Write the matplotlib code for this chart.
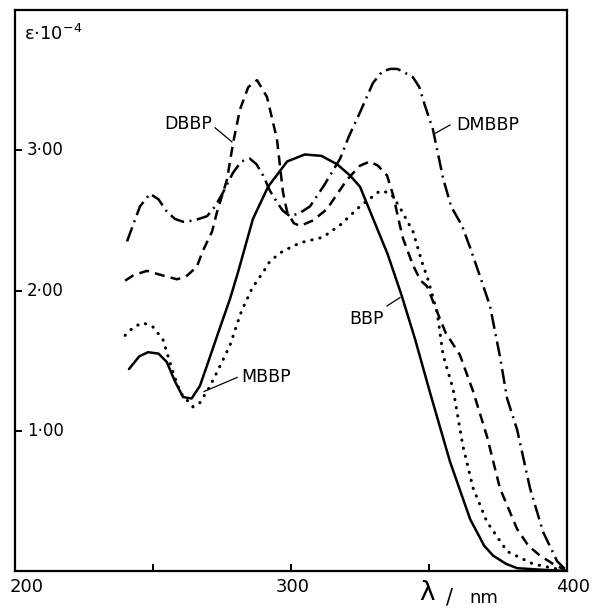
import matplotlib
matplotlib.use("Agg")
import matplotlib.pyplot as plt

plt.rcParams['font.family'] = 'DejaVu Sans'

# wavelength (nm) and epsilon * 1e-4
bbp_nm = [241.3, 245, 248.2, 252, 255, 258, 260.9, 264, 267, 270.7, 274, 277.9, 280.8,
          286.2, 291.7, 298.6, 305, 311, 316.7, 321.4, 325, 330, 335, 340, 345, 350.4,
          357.6, 364.9, 370, 373.2, 378, 382, 390, 400]
bbp_eps = [1.44, 1.53, 1.56, 1.55, 1.49, 1.35, 1.24, 1.23, 1.32, 1.53, 1.72, 1.94, 2.13,
           2.51, 2.74, 2.92, 2.97, 2.96, 2.90, 2.82, 2.74, 2.50, 2.26, 1.97, 1.65, 1.27,
           0.78, 0.37, 0.18, 0.11, 0.05, 0.02, 0.01, 0.0]

mbbp_nm = [239.9, 243, 246.4, 250, 253.6, 257.2, 260, 264.5, 267, 270.7, 274, 277.9, 282,
           286, 289.9, 292.4, 297, 303.3, 311.6, 318, 325, 332.2, 335, 336.6, 339.5, 344.2,
           347.8, 349.3, 352.9, 355.1, 358.7, 362.3, 366, 371, 378.3, 387.7, 400]
mbbp_eps = [1.68, 1.74, 1.77, 1.74, 1.65, 1.42, 1.27, 1.17, 1.20, 1.32, 1.45, 1.61, 1.85,
            2.02, 2.13, 2.21, 2.28, 2.34, 2.38, 2.47, 2.60, 2.71, 2.70, 2.68, 2.59, 2.42,
            2.18, 2.10, 1.85, 1.54, 1.30, 0.89, 0.59, 0.35, 0.14, 0.05, 0.0]

dbbp_nm = [239.9, 243, 247.8, 253, 258.7, 262, 265.9, 268, 271.4, 273.2, 276.8, 279, 281.5,
           284.5, 287.7, 291.3, 294.9, 297.1, 298.6, 301, 303.3, 308, 313, 320.3, 325, 328.6,
           331.5, 334.8, 337, 339.5, 340.6, 344.2, 347, 349.3, 352.9, 356, 361.2, 366, 371,
           375.7, 381.9, 386, 390.2, 395, 400]
dbbp_eps = [2.07, 2.11, 2.14, 2.11, 2.08, 2.10, 2.17, 2.28, 2.42, 2.56, 2.79, 3.05, 3.29,
            3.45, 3.50, 3.38, 3.08, 2.70, 2.56, 2.48, 2.46, 2.50, 2.58, 2.79, 2.89, 2.92,
            2.89, 2.82, 2.68, 2.46, 2.37, 2.18, 2.07, 2.03, 1.85, 1.70, 1.54, 1.28, 0.96,
            0.59, 0.30, 0.18, 0.11, 0.05, 0.0]

dmbbp_nm = [240.6, 243, 245.3, 248.9, 252, 255.1, 258, 260.9, 265, 269.6, 272.5, 275.4, 279,
            282, 285.1, 287.5, 289.9, 292.4, 294.9, 297, 299.6, 303, 306.9, 312, 317.8, 321,
            325, 329.7, 333, 335.9, 338.5, 340.6, 344.2, 346.5, 348.5, 351.4, 355.1, 358, 362,
            365, 368.5, 372.1, 375.7, 378.3, 381.9, 386.6, 391.3, 396.4, 400]
dmbbp_eps = [2.35, 2.48, 2.60, 2.69, 2.65, 2.56, 2.51, 2.49, 2.50, 2.53, 2.60, 2.70, 2.84,
             2.92, 2.94, 2.90, 2.82, 2.71, 2.63, 2.57, 2.53, 2.55, 2.60, 2.75, 2.94, 3.10,
             3.27, 3.48, 3.56, 3.58, 3.58, 3.56, 3.52, 3.45, 3.32, 3.15, 2.80, 2.60, 2.46,
             2.30, 2.10, 1.89, 1.53, 1.23, 1.01, 0.59, 0.28, 0.07, 0.0]

ytick_vals = [1, 2, 3]
ytick_labels = ['1·00', '2·00', '3·00']
xtick_vals = [250, 300, 350]
xlabel_vals = [200, 300, 400]
xlabel_pos = [204.3, 300.7, 402.2]

W, H = 596, 608
fig = plt.figure(figsize=(W / 100, H / 100), dpi=100)
ax = fig.add_axes([15 / W, (H - 571) / H, (567 - 15) / W, (571 - 10) / H])
ax.set_xlim(200, 400)
ax.set_ylim(0, 4.0)

lw = 1.8
ax.plot(bbp_nm, bbp_eps, color='black', lw=lw, solid_capstyle='round')
ax.plot(mbbp_nm, mbbp_eps, color='black', lw=2.2, linestyle=(0, (0.1, 2.6)),
        dash_capstyle='round')
ax.plot(dbbp_nm, dbbp_eps, color='black', lw=lw, linestyle=(0, (4, 2.5)))
ax.plot(dmbbp_nm, dmbbp_eps, color='black', lw=lw,
        linestyle=(0, (6, 2.2, 0.8, 2.2)))

# spines / ticks
for s in ax.spines.values():
    s.set_linewidth(1.6)
ax.set_xticks(xtick_vals)
ax.set_yticks(ytick_vals)
ax.tick_params(direction='in', length=5, width=1.4, labelbottom=False, labelleft=False)

for v, t in zip(ytick_vals, ytick_labels):
    ax.text(204.3, v, t, fontsize=12, ha='left', va='center')
for v, x in zip(xlabel_vals, xlabel_pos):
    ax.text(x, -0.115, str(v), fontsize=13, ha='center', va='center', clip_on=False)

ax.text(214, 3.83, 'ε·10$^{-4}$', fontsize=13, ha='center', va='center')
ax.text(349.3, -0.16, 'λ', fontsize=19, ha='center', va='center')
ax.text(356, -0.19, '/', fontsize=15, ha='left', va='center')
ax.text(364.5, -0.19, 'nm', fontsize=13, ha='left', va='center')

# curve labels with leader lines
ax.text(262.7, 3.19, 'DBBP', fontsize=12.5, ha='center', va='center')
ax.plot([272.5, 278.6], [3.16, 3.06], color='black', lw=0.9)

ax.text(359.8, 3.18, 'DMBBP', fontsize=12.5, ha='left', va='center')
ax.plot([352.2, 357.6], [3.12, 3.18], color='black', lw=0.9)

ax.text(327.5, 1.80, 'BBP', fontsize=12.5, ha='center', va='center')
ax.plot([334.8, 339.5], [1.89, 1.95], color='black', lw=0.9)

ax.text(282, 1.38, 'MBBP', fontsize=12.5, ha='left', va='center')
ax.plot([268.5, 280.5], [1.28, 1.38], color='black', lw=0.9)

fig.savefig('out.png', dpi=100)
